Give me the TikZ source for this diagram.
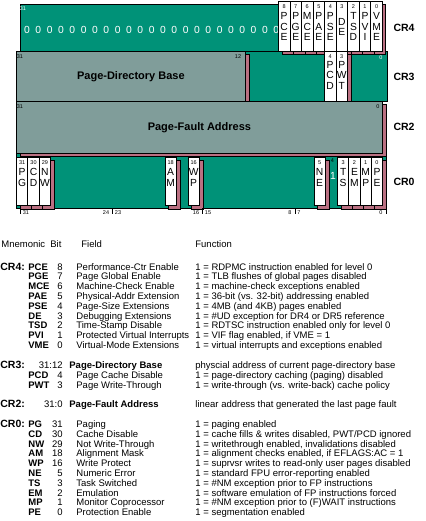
\documentclass[tikz,border=0pt]{standalone}
\usepackage{fontspec}
\setmainfont{Liberation Sans}
\usetikzlibrary{positioning,shadows}

\definecolor{regGreen}{RGB}{0,146,120}
\definecolor{fieldGray}{RGB}{128,157,154}
\definecolor{shadowPink}{RGB}{186,112,130}

\begin{document}
\begin{tikzpicture}[
  x=1pt, y=-1pt,
  line width=0.8pt,
  base/.style={draw, fill=regGreen},
  raised/.style={draw, general shadow={fill=shadowPink, draw=black, shadow xshift=3.5pt, shadow yshift=-3.5pt}},
  bitbox/.style={raised, fill=white, anchor=north west, minimum width=11.5pt, inner sep=0pt},
  field/.style={raised, fill=fieldGray, anchor=north west, inner sep=0pt, font=\bfseries\fontsize{11}{12}\selectfont},
  bitlet/.style={align=center, inner sep=0pt, font=\fontsize{10.3}{10.5}\selectfont},
  bitno/.style={inner sep=0pt, font=\fontsize{5.5}{6}\selectfont},
  reglabel/.style={font=\bfseries\fontsize{10.5}{12}\selectfont},
  tab/.style={anchor=base west, inner sep=0pt, font=\fontsize{9.5}{10}\selectfont},
  tabbold/.style={tab, font=\bfseries\fontsize{9.5}{10}\selectfont},
  tabcr/.style={tab, font=\bfseries\fontsize{10.5}{10}\selectfont},
  tabbit/.style={tab, anchor=base east}
]
\useasboundingbox (0,0) rectangle (425,521);

% base planes
\draw[base] (16,153) rectangle (386,208);
\draw[base] (245,51) rectangle (387,101);
\draw[base] (20,4) rectangle (280,51);

% CR4
\node[bitno, text=white] (cr4-hi) at (23,9) {31};
\foreach \k in {0,...,22}
  \node[bitlet, text=white] (zero\k) at (27+11.33*\k,30) {0};
\foreach \nm/\bit/\txt [count=\i from 0] in {pce/8/P\\C\\E, pge/7/P\\G\\E, mce/6/M\\C\\E, pae/5/P\\A\\E, pse/4/P\\S\\E, de/3/D\\E, tsd/2/T\\S\\D, pvi/1/P\\V\\I, vme/0/V\\M\\E}{
  \node[bitbox, minimum height=50pt] (\nm) at (278+11.55*\i,1) {};
  \node[bitno, below=3pt of \nm.north] (\nm-b) {\bit};
  \node[bitlet] (\nm-t) at ([yshift=-0.5pt]\nm.center) {\txt};
}

% CR3
\node[field, minimum width=229pt, minimum height=50pt] (pdbase) at (16,51) {Page-Directory Base};
\node[bitno] (pdbase-hi) at (20,57) {31};
\node[bitno] (pdbase-lo) at (238,57) {12};
\node[bitno, text=white] (cr3-lo) at (381,58) {0};
\foreach \nm/\bit/\txt [count=\i from 0] in {pcd/4/P\\C\\D, pwt/3/P\\W\\T}{
  \node[bitbox, minimum height=50pt] (\nm) at (324+11.6*\i,51) {};
  \node[bitno, below=3pt of \nm.north] (\nm-b) {\bit};
  \node[bitlet] (\nm-t) at ([yshift=1pt]\nm.center) {\txt};
}

% CR2
\node[field, minimum width=366pt, minimum height=52pt] (pfaddr) at (16,101) {Page-Fault Address};
\node[bitno] (pfaddr-hi) at (20,107) {31};
\node[bitno] (pfaddr-lo) at (378,107) {0};

% CR0
\foreach \nm/\bit/\txt/\xx in {pg/31/P\\G/16, cd/30/C\\D/27.4, nw/29/N\\W/38.8, am/18/A\\M/164.5, wp/16/W\\P/187.5, ne/5/N\\E/313.5, ts/3/T\\S/337, em/2/E\\M/348.3, mp/1/M\\P/359.6, pe/0/P\\E/370.8}{
  \node[bitbox, minimum height=48pt] (\nm) at (\xx,157) {};
  \node[bitno, below=3pt of \nm.north] (\nm-b) {\bit};
  \node[bitlet] (\nm-t) at ([yshift=4pt]\nm.center) {\txt};
}
\node[bitlet, text=white] (et) at (333,176) {1};
\node[bitno] (et-b) at (332.5,161) {4};

% bit scale
\draw (386,153) -- (386,214);
\foreach \tx in {20,112,202,295}
  \draw (\tx,208) -- (\tx,214);
\node[bitno] (s31) at (26,213) {31};
\node[bitno] (s24) at (106,213) {24};
\node[bitno] (s23) at (118,213) {23};
\node[bitno] (s16) at (196,213) {16};
\node[bitno] (s15) at (208,213) {15};
\node[bitno] (s8) at (290,213) {8};
\node[bitno] (s7) at (299,213) {7};
\node[bitno] (s0) at (381,213) {0};

\node[reglabel] (cr4) at (404,28) {CR4};
\node[reglabel] (cr3) at (404,77) {CR3};
\node[reglabel] (cr2) at (404,127) {CR2};
\node[reglabel] (cr0) at (404,182) {CR0};

% table
\node[tab] (h-mn) at (1,247.5) {Mnemonic};
\node[tab] (h-bit) at (50,247.5) {Bit};
\node[tab] (h-fd) at (81,247.5) {Field};
\node[tab] (h-fn) at (195,247.5) {Function};

\node[tabcr] (t-cr4) at (0,270) {CR4:};
\foreach \mn/\bt/\fd/\fn [count=\r from 0] in {
  PCE/8/Performance-Ctr Enable/{1 = RDPMC instruction enabled for level 0},
  PGE/7/Page Global Enable/{1 = TLB flushes of global pages disabled},
  MCE/6/Machine-Check Enable/{1 = machine-check exceptions enabled},
  PAE/5/Physical-Addr Extension/{1 = 36-bit (vs. 32-bit) addressing enabled},
  PSE/4/Page-Size Extensions/{1 = 4MB (and 4KB) pages enabled},
  DE/3/Debugging Extensions/{1 = \#UD exception for DR4 or DR5 reference},
  TSD/2/Time-Stamp Disable/{1 = RDTSC instruction enabled only for level 0},
  PVI/1/Protected Virtual Interrupts/{1 = VIF flag enabled, if VME = 1},
  VME/0/Virtual-Mode Extensions/{1 = virtual interrupts and exceptions enabled}}{
  \node[tabbold] (\mn-m) at (28,270+9.8*\r) {\mn};
  \node[tabbit] (\mn-b) at (63,270+9.8*\r) {\bt};
  \node[tab] (\mn-f) at (76,270+9.8*\r) {\fd};
  \node[tab] (\mn-x) at (195,270+9.8*\r) {\fn};
}

\node[tabcr] (t-cr3) at (0,368.5) {CR3:};
\node[tabbit] (pdb-b) at (63,368.5) {31:12};
\node[tabbold] (pdb-f) at (69,368.5) {Page-Directory Base};
\node[tab] (pdb-x) at (195,368.5) {physcial address of current page-directory base};
\foreach \mn/\bt/\fd/\fn [count=\r from 1] in {
  PCD/4/Page Cache Disable/{1 = page-directory caching (paging) disabled},
  PWT/3/Page Write-Through/{1 = write-through (vs. write-back) cache policy}}{
  \node[tabbold] (\mn-m) at (28,368.5+9.8*\r) {\mn};
  \node[tabbit] (\mn-b) at (63,368.5+9.8*\r) {\bt};
  \node[tab] (\mn-f) at (76,368.5+9.8*\r) {\fd};
  \node[tab] (\mn-x) at (195,368.5+9.8*\r) {\fn};
}

\node[tabcr] (t-cr2) at (0,407.5) {CR2:};
\node[tabbit] (pfa-b) at (63,407.5) {31:0};
\node[tabbold] (pfa-f) at (69,407.5) {Page-Fault Address};
\node[tab] (pfa-x) at (195,407.5) {linear address that generated the last page fault};

\node[tabcr] (t-cr0) at (0,427.5) {CR0:};
\foreach \mn/\bt/\fd/\fn [count=\r from 0] in {
  PG/31/Paging/{1 = paging enabled},
  CD/30/Cache Disable/{1 = cache fills \& writes disabled, PWT/PCD ignored},
  NW/29/Not Write-Through/{1 = writethrough enabled, invalidations disabled},
  AM/18/Alignment Mask/{1 = alignment checks enabled, if EFLAGS:AC = 1},
  WP/16/Write Protect/{1 = suprvsr writes to read-only user pages disabled},
  NE/5/Numeric Error/{1 = standard FPU error-reporting enabled},
  TS/3/Task Switched/{1 = \#NM exception prior to FP instructions},
  EM/2/Emulation/{1 = software emulation of FP instructions forced},
  MP/1/Monitor Coprocessor/{1 = \#NM exception prior to (F)WAIT instructions},
  PE/0/Protection Enable/{1 = segmentation enabled}}{
  \node[tabbold] (\mn-m) at (28,427.5+9.8*\r) {\mn};
  \node[tabbit] (\mn-b) at (63,427.5+9.8*\r) {\bt};
  \node[tab] (\mn-f) at (76,427.5+9.8*\r) {\fd};
  \node[tab] (\mn-x) at (195,427.5+9.8*\r) {\fn};
}
\end{tikzpicture}
\end{document}
